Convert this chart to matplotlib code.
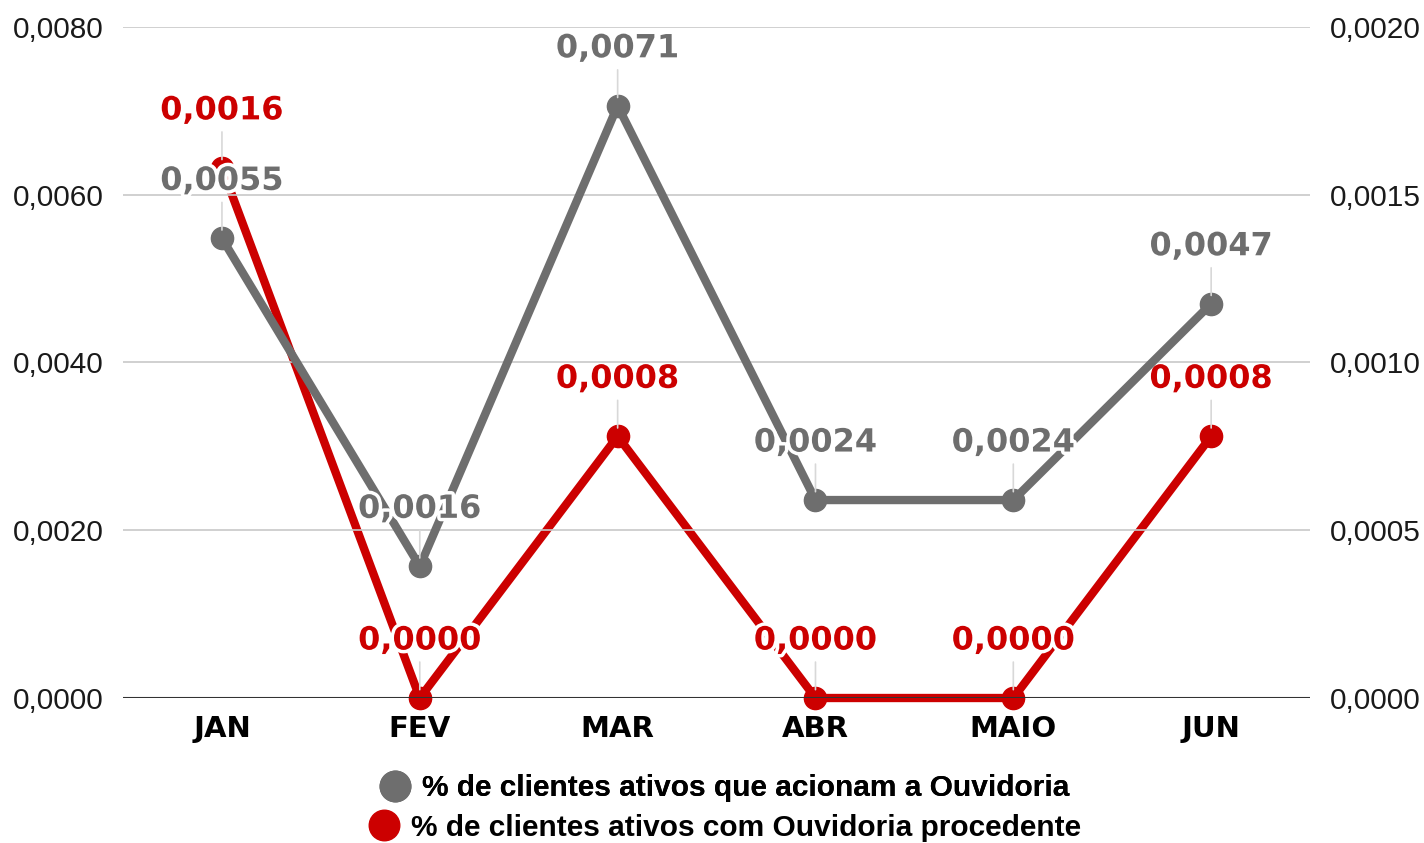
import matplotlib.pyplot as plt
import matplotlib.patheffects as pe
from matplotlib.lines import Line2D
from matplotlib.ticker import FuncFormatter

# dados
meses = ['JAN', 'FEV', 'MAR', 'ABR', 'MAIO', 'JUN']
acionam = [0.00548, 0.00157, 0.00706, 0.00236, 0.00236, 0.00470]
procedente = [0.00158, 0.00000, 0.00078, 0.00000, 0.00000, 0.00078]
nome_acionam = '% de clientes ativos que acionam a Ouvidoria'
nome_procedente = '% de clientes ativos com Ouvidoria procedente'

CINZA = '#6e6e6e'
VERMELHO = '#cc0000'


def virgula(v, pos=None):
    return f'{v:.4f}'.replace('.', ',')


fig = plt.figure(figsize=(14.24, 8.43), dpi=100)
ax = fig.add_axes([0.0864, 0.172, 0.8336, 0.796])
ax2 = ax.twinx()

x = list(range(len(meses)))

ax.set_xlim(-0.5, 5.5)
ax.set_ylim(0, 0.008)
ax2.set_ylim(0, 0.002)
ax.set_yticks([0, 0.002, 0.004, 0.006, 0.008])
ax2.set_yticks([0, 0.0005, 0.001, 0.0015, 0.002])
ax.yaxis.set_major_formatter(FuncFormatter(virgula))
ax2.yaxis.set_major_formatter(FuncFormatter(virgula))

ax.grid(axis='y', color='#c8c8c8', linewidth=1.2)
ax.set_axisbelow(True)
for a in (ax, ax2):
    for s in ('top', 'left', 'right', 'bottom'):
        a.spines[s].set_visible(False)
    a.tick_params(length=0)
ax.axhline(0, color='#333333', linewidth=1.5, zorder=1)

ax.set_xticks(x)
ax.set_xticklabels(meses, fontsize=21, fontweight='bold', family='DejaVu Sans')
ax.tick_params(axis='x', pad=12)
for eixo in (ax, ax2):
    for lbl in eixo.get_yticklabels():
        lbl.set_fontsize(21.5)
        lbl.set_family('Liberation Sans')
        lbl.set_color('#1a1a1a')
    eixo.tick_params(axis='y', pad=14)

ax.set_zorder(ax2.get_zorder() + 1)
ax.patch.set_visible(False)

ax.plot(x, acionam, color=CINZA, linewidth=6, marker='o', markersize=16,
        solid_capstyle='round', zorder=3)
ax2.plot(x, procedente, color=VERMELHO, linewidth=6, marker='o', markersize=16,
         solid_capstyle='round', zorder=3, clip_on=False)

contorno = [pe.withStroke(linewidth=5, foreground='white')]


def rotular(eixo, valores, cor):
    for xi, v in zip(x, valores):
        eixo.annotate(virgula(v), xy=(xi, v), xytext=(0, 57),
                      textcoords='offset pixels',
                      ha='center', va='center', fontsize=23, fontweight='bold',
                      family='DejaVu Sans', color=cor, path_effects=contorno,
                      zorder=6, annotation_clip=False,
                      arrowprops=dict(arrowstyle='-', color='#d8d8d8', lw=1.2,
                                      shrinkA=2, shrinkB=6))


rotular(ax2, procedente, VERMELHO)
rotular(ax, acionam, CINZA)

h1 = Line2D([], [], color=CINZA, marker='o', linestyle='none', markersize=22)
h2 = Line2D([], [], color=VERMELHO, marker='o', linestyle='none', markersize=22)
fonte_leg = {'family': 'Liberation Sans', 'weight': 'bold', 'size': 21.5}
leg1 = fig.legend([h1], [nome_acionam], loc='center', bbox_to_anchor=(0.508, 0.065),
                  frameon=False, prop=fonte_leg, handletextpad=0.3, handlelength=1.2)
fig.add_artist(leg1)
fig.legend([h2], [nome_procedente], loc='center', bbox_to_anchor=(0.508, 0.018),
           frameon=False, prop=fonte_leg, handletextpad=0.3, handlelength=1.2)

fig.savefig('out.png', dpi=100)
